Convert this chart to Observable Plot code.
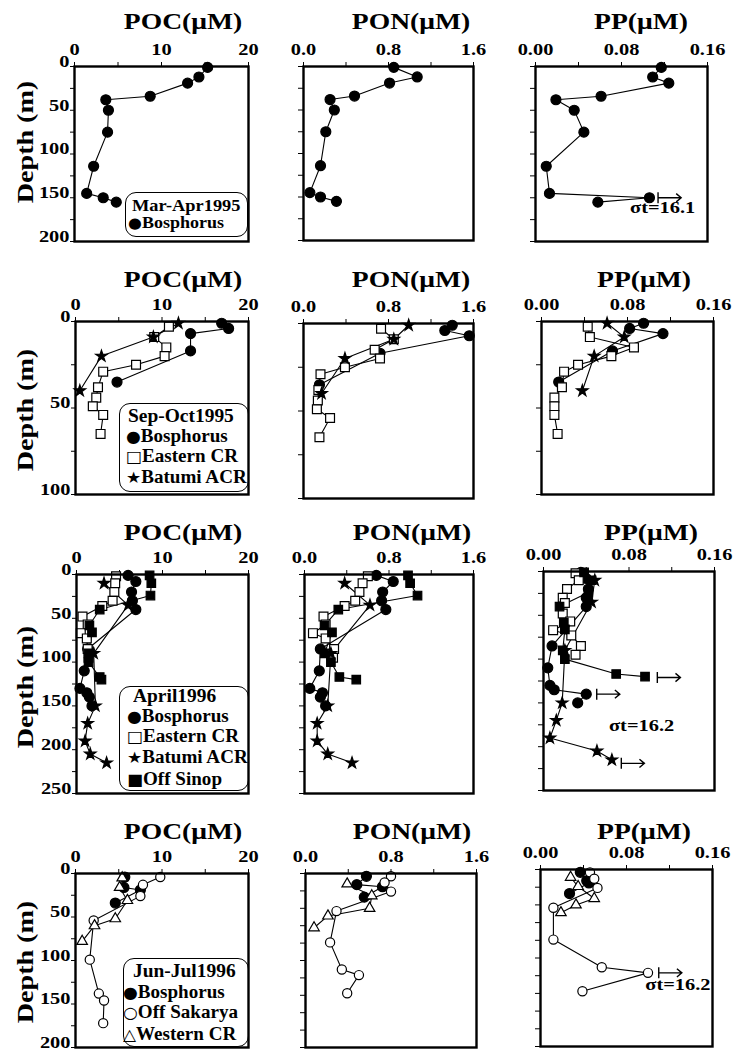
<!DOCTYPE html>
<html><head><meta charset="utf-8">
<script src="https://cdn.jsdelivr.net/npm/d3@7"></script>
<script src="https://cdn.jsdelivr.net/npm/@observablehq/plot@0.6"></script>
<style>
html,body{margin:0;padding:0;background:#fff;}
#chart{position:relative;width:733px;height:1056px;overflow:hidden;color:#000;}
.t{position:absolute;white-space:nowrap;line-height:1;color:#000;}
.sym{font-family:"DejaVu Sans",sans-serif;font-weight:normal;}
.legend{position:absolute;border:1.3px solid #000;border-radius:11px;box-sizing:border-box;}
</style></head><body><div id="chart"></div>
<script>
// ================= DATA =================
const variables = ["POC", "PON", "PP"];
const titles = ["POC(μM)", "PON(μM)", "PP(μM)"];
const xDomains = [[0, 20], [0, 1.6], [0, 0.16]];
const xTicks = [[0, 5, 10, 15, 20], [0, 0.4, 0.8, 1.2, 1.6], [0, 0.04, 0.08, 0.12, 0.16]];
const xTickLabels = [[0, 10, 20], [0, 0.8, 1.6], [0, 0.08, 0.16]];
const xDecimals = [0, 1, 2];
const periods = ["Mar-Apr1995", "Sep-Oct1995", "April1996", "Jun-Jul1996"];
const depthMax = [[200, 200, 200], [100, 100, 100], [250, 250, 250], [200, 250, 250]];

// --- Mar-Apr 1995 ---
const mar95_bos_depth = [1, 12, 19, 34, 38, 50, 75, 114, 145, 150, 155];
const mar95_bos_POC = [15.3, 14.3, 13.0, 8.7, 3.6, 3.9, 3.8, 2.2, 1.4, 3.3, 4.8];
const mar95_bos_PON = [0.85, 1.07, 0.81, 0.48, 0.25, 0.29, 0.21, 0.16, 0.06, 0.16, 0.31];
const mar95_bos_PP = [0.117, 0.109, 0.124, 0.061, 0.019, 0.036, 0.045, 0.010, 0.013, 0.106, 0.058];

// --- Sep-Oct 1995 ---
const sep95_bos_depth = [1, 4, 7, 17, 35];
const sep95_bos_POC = [16.9, 17.7, 13.3, 13.3, 4.8];
const sep95_bos_PON = [1.40, 1.33, 1.56, 0.72, 0.15];
const sep95_bos_PP = [0.095, 0.082, 0.113, 0.066, 0.016];
const sep95_ecr_depth = [3, 9, 15, 20, 25, 29, 38, 44, 49, 54, 65];
const sep95_ecr_POC = [10.8, 9.1, 10.5, 10.3, 7.0, 3.2, 2.6, 2.4, 2.0, 3.2, 2.9];
const sep95_ecr_PON = [0.73, 0.85, 0.67, 0.72, 0.39, 0.16, 0.14, 0.135, 0.126, 0.25, 0.15];
const sep95_ecr_PP = [0.043, 0.045, 0.086, 0.065, 0.034, 0.021, 0.019, 0.012, 0.012, 0.012, 0.015];
const sep95_bat_depth = [1, 9, 20, 40];
const sep95_bat_POC = [11.9, 9.0, 3.0, 0.5];
const sep95_bat_PON = [0.99, 0.85, 0.39, 0.17];
const sep95_bat_PP = [0.061, 0.077, 0.049, 0.038];

// --- April 1996 ---
const apr96_bos_depth = [1, 8, 20, 30, 40, 85, 110, 130, 135, 140, 150];
const apr96_bos_POC = [6.0, 6.9, 6.4, 6.5, 6.9, 1.3, 0.9, 0.4, 1.2, 1.5, 1.8];
const apr96_bos_PON = [0.68, 0.84, 0.74, 0.73, 0.77, 0.15, 0.14, 0.05, 0.17, 0.15, 0.20];
const apr96_bos_PP = [0.035, 0.040, 0.042, 0.040, 0.040, 0.008, 0.004, 0.006, 0.010, 0.040, 0.032];
const apr96_ecr_depth = [2, 10, 20, 30, 36, 48, 57, 67, 73, 85, 95];
const apr96_ecr_POC = [4.6, 4.5, 4.4, 4.2, 3.0, 0.7, 1.3, 0.5, 1.2, 1.3, 1.4];
const apr96_ecr_PON = [0.60, 0.55, 0.52, 0.48, 0.38, 0.18, 0.20, 0.08, 0.20, 0.28, 0.27];
const apr96_ecr_PP = [0.030, 0.033, 0.022, 0.018, 0.020, 0.018, 0.025, 0.009, 0.026, 0.035, 0.030];
const apr96_bat_depth = [10, 35, 90, 150, 170, 190, 205, 215];
const apr96_bat_POC = [3.2, 6.0, 2.0, 2.2, 1.3, 1.0, 1.6, 3.5];
const apr96_bat_PON = [0.38, 0.62, 0.25, 0.22, 0.12, 0.12, 0.22, 0.45];
const apr96_bat_PP = [0.048, 0.045, 0.020, 0.0175, 0.012, 0.006, 0.050, 0.064];
const apr96_sin_depth = [1, 10, 24, 40, 58, 66, 90, 100, 117, 120];
const apr96_sin_POC = [8.5, 8.7, 8.6, 2.7, 1.5, 1.8, 1.4, 1.4, 2.7, 2.9];
const apr96_sin_PON = [0.98, 1.00, 1.07, 0.32, 0.19, 0.26, 0.19, 0.25, 0.33, 0.49];
const apr96_sin_PP = [0.038, 0.045, 0.042, 0.015, 0.019, 0.020, 0.018, 0.020, 0.068, 0.095];

// --- Jun-Jul 1996 ---
const jun96_bos_depth = [4, 16, 19, 34];
const jun96_bos_POC = [5.7, 5.6, 7.5, 4.6];
const jun96_bos_PON = [0.57, 0.48, 0.72, 0.55];
const jun96_bos_PP = [0.037, 0.043, 0.045, 0.027];
const jun96_sak_depth = [4, 13, 26, 54, 99, 138, 146, 172];
const jun96_sak_POC = [9.8, 7.8, 7.5, 2.1, 1.65, 2.7, 3.3, 3.2];
const jun96_sak_PON = [0.80, 0.74, 0.80, 0.29, 0.23, 0.34, 0.50, 0.39];
const jun96_sak_PP = [0.046, 0.050, 0.053, 0.012, 0.012, 0.057, 0.100, 0.039];
const jun96_wcr_depth_POC = [5, 16, 31, 52, 60, 78];
const jun96_wcr_POC = [5.4, 5.1, 6.0, 4.6, 2.2, 0.77];
const jun96_wcr_depth_PON = [15, 32, 50, 61, 78];
const jun96_wcr_PON = [0.39, 0.62, 0.60, 0.21, 0.08];
const jun96_wcr_depth_PP = [11, 24, 41, 50, 61];
const jun96_wcr_PP = [0.028, 0.035, 0.050, 0.033, 0.019];

// σt isopycnal markers in the PP panels
const sigmaArrowPeriod = [0, 2, 2, 2, 3];
const sigmaArrowPP = [0.114, 0.1065, 0.0498, 0.0728, 0.110];
const sigmaArrowDepth = [150, 121, 140, 219, 146];
const sigmaLabelPeriod = [0, 2, 3];
const sigmaLabelText = ["σt=16.1", "σt=16.2", "σt=16.2"];
const sigmaLabelPP = [0.088, 0.0613, 0.0975];
const sigmaLabelDepth = [167, 182, 170];

// ================= STRUCTURE =================
function station(name, dPOC, POC, dPON, PON, dPP, PP) {
  return {name, depth: {POC: dPOC, PON: dPON, PP: dPP}, POC, PON, PP};
}
const rowsData = [
  [station("Bosphorus", mar95_bos_depth, mar95_bos_POC, mar95_bos_depth, mar95_bos_PON, mar95_bos_depth, mar95_bos_PP)],
  [station("Bosphorus", sep95_bos_depth, sep95_bos_POC, sep95_bos_depth, sep95_bos_PON, sep95_bos_depth, sep95_bos_PP),
   station("Eastern CR", sep95_ecr_depth, sep95_ecr_POC, sep95_ecr_depth, sep95_ecr_PON, sep95_ecr_depth, sep95_ecr_PP),
   station("Batumi ACR", sep95_bat_depth, sep95_bat_POC, sep95_bat_depth, sep95_bat_PON, sep95_bat_depth, sep95_bat_PP)],
  [station("Bosphorus", apr96_bos_depth, apr96_bos_POC, apr96_bos_depth, apr96_bos_PON, apr96_bos_depth, apr96_bos_PP),
   station("Eastern CR", apr96_ecr_depth, apr96_ecr_POC, apr96_ecr_depth, apr96_ecr_PON, apr96_ecr_depth, apr96_ecr_PP),
   station("Batumi ACR", apr96_bat_depth, apr96_bat_POC, apr96_bat_depth, apr96_bat_PON, apr96_bat_depth, apr96_bat_PP),
   station("Off Sinop", apr96_sin_depth, apr96_sin_POC, apr96_sin_depth, apr96_sin_PON, apr96_sin_depth, apr96_sin_PP)],
  [station("Bosphorus", jun96_bos_depth, jun96_bos_POC, jun96_bos_depth, jun96_bos_PON, jun96_bos_depth, jun96_bos_PP),
   station("Off Sakarya", jun96_sak_depth, jun96_sak_POC, jun96_sak_depth, jun96_sak_PON, jun96_sak_depth, jun96_sak_PP),
   station("Western CR", jun96_wcr_depth_POC, jun96_wcr_POC, jun96_wcr_depth_PON, jun96_wcr_PON, jun96_wcr_depth_PP, jun96_wcr_PP)]
];

// ================= STYLE / LAYOUT =================
const stationStyle = {
  "Bosphorus":   {symbol: "circle",   fill: "black", r: 5,   legend: "●"},
  "Eastern CR":  {symbol: "square",   fill: "white", r: 5,   legend: "□"},
  "Batumi ACR":  {symbol: "star",     fill: "black", r: 3.6, legend: "★"},
  "Off Sinop":   {symbol: "square",   fill: "black", r: 4.8, legend: "■"},
  "Off Sakarya": {symbol: "circle",   fill: "white", r: 4.6, legend: "○"},
  "Western CR":  {symbol: "triangle", fill: "white", r: 3.9, legend: "△"}
};
// "|→" marker drawn as a custom symbol
const mapsTo = {
  draw(ctx, size) {
    const s = Math.sqrt(size / Math.PI);
    ctx.moveTo(0, -s); ctx.lineTo(0, s);
    ctx.moveTo(0, 0); ctx.lineTo(4.2 * s, 0);
    ctx.moveTo(3.3 * s, -0.75 * s); ctx.lineTo(4.2 * s, 0); ctx.lineTo(3.3 * s, 0.75 * s);
  }
};
const frameX = [[[74,248],[303,473],[535,707]], [[75,248],[303,473],[541,713]], [[76,248],[304,473],[543,714]], [[75,248],[305,476],[540,712]]];
const frameY = [[[66,241],[66,240],[66,241]], [[321,494],[323,498],[321,494]], [[574,793],[574,793],[571,790]], [[873,1047],[873,1047],[869,1046]]];
const titleX = [[183,411,641],[183,411,644],[183,412,651],[183,412,644]];
const titleBase = [29, 287, 540, 839];
const depthLabelY = [142, 410, 687, 962];
const legendLayout = [
  {box: [125,192,248,237], head: [132,211], sym: 128, lines: [228], size: 17},
  {box: [119,403,249,492], head: [128,422], sym: 126, lines: [442,462,483], size: 18},
  {box: [119,686,249,791], head: [133,702], sym: 127, lines: [722,742,763,785], size: 18},
  {box: [123,958,249,1047], head: [133,977], sym: 123, lines: [998,1018,1040], size: 18}
];
const SERIF = '"Liberation Serif","Times New Roman",serif';
const chart = document.getElementById("chart");

function addText(str, {left, baseline, size, family = SERIF, weight = "bold", sx = 1, anchor = "start", asc = 0.8375, html = false}) {
  const d = document.createElement("div");
  d.className = "t";
  if (html) d.innerHTML = str; else d.textContent = str;
  d.style.fontSize = size + "px";
  d.style.fontFamily = family;
  d.style.fontWeight = weight;
  d.style.top = (baseline - asc * size) + "px";
  if (anchor === "middle") {
    d.style.left = (left - 150) + "px"; d.style.width = "300px"; d.style.textAlign = "center";
    d.style.transformOrigin = "50% 50%";
  } else {
    d.style.left = left + "px"; d.style.transformOrigin = "0 50%";
  }
  d.style.transform = `scaleX(${sx})`;
  chart.appendChild(d);
  return d;
}

function stretchTexts(svg, sx) {
  svg.querySelectorAll("text").forEach(t => {
    const x = parseFloat(t.getAttribute("x")) || 0;
    const y = parseFloat(t.getAttribute("y")) || 0;
    const tr = t.getAttribute("transform") || "";
    t.removeAttribute("x"); t.removeAttribute("y");
    t.setAttribute("transform", `${tr} translate(${x},${y}) scale(${sx},1)`);
  });
}

for (let r = 0; r < 4; r++) {
  for (let c = 0; c < 3; c++) {
    const v = variables[c];
    const [x0, x1] = frameX[r][c], [y0, y1] = frameY[r][c];
    const mL = c === 0 ? 64 : 16, mT = 44, mR = 20, mB = 8;
    const marks = [];
    const series = rowsData[r].map(s => ({
      name: s.name,
      data: s.depth[v].map((d, i) => ({depth: d, value: s[v][i]}))
    }));
    for (const s of series) marks.push(Plot.line(s.data, {x: "value", y: "depth", stroke: "black", strokeWidth: 1.1}));
    for (const s of series) {
      const st = stationStyle[s.name];
      marks.push(Plot.dot(s.data, {x: "value", y: "depth", symbol: st.symbol, r: st.r, fill: st.fill, stroke: "black", strokeWidth: 1.2}));
    }
    if (c === 2) {
      const arrows = sigmaArrowPeriod.map((p, i) => ({p, value: sigmaArrowPP[i], depth: sigmaArrowDepth[i]})).filter(a => a.p === r);
      const labels = sigmaLabelPeriod.map((p, i) => ({p, text: sigmaLabelText[i], value: sigmaLabelPP[i], depth: sigmaLabelDepth[i]})).filter(a => a.p === r);
      marks.push(Plot.dot(arrows, {x: "value", y: "depth", symbol: mapsTo, r: 5.5, fill: "none", stroke: "black", strokeWidth: 1.4}));
      marks.push(Plot.text(labels, {x: "value", y: "depth", text: "text", textAnchor: "start", fontSize: 17, fontFamily: SERIF, fontWeight: "bold"}));
    }
    marks.push(Plot.frame({stroke: "black", strokeWidth: 2.4}));
    const dm = depthMax[r][c];
    const svg = Plot.plot({
      width: (x1 - x0) + mL + mR,
      height: (y1 - y0) + mT + mB,
      marginLeft: mL, marginRight: mR, marginTop: mT, marginBottom: mB,
      style: {fontFamily: SERIF, fontSize: "17px", fontWeight: "bold", background: "transparent", overflow: "visible", color: "black"},
      x: {domain: xDomains[c], axis: "top", ticks: xTicks[c],
          tickFormat: d => xTickLabels[c].includes(d) ? d.toFixed(xDecimals[c]) : "",
          tickSize: 5, tickPadding: 7, label: null},
      y: {domain: [0, dm], reverse: true, ticks: d3.range(0, dm + 1, 25),
          tickFormat: c === 0 ? (d => d % 50 === 0 ? String(d) : "") : (() => ""),
          tickSize: c === 0 ? 4 : 5, tickPadding: 1, label: null},
      marks
    });
    stretchTexts(svg, 1.2);
    svg.style.position = "absolute";
    svg.style.left = (x0 - mL) + "px";
    svg.style.top = (y0 - mT) + "px";
    svg.style.maxWidth = "none";
    chart.appendChild(svg);

    addText(titles[c], {left: titleX[r][c], baseline: titleBase[r], size: 23, anchor: "middle", sx: 1.2});
  }
  // Depth label
  const dl = document.createElement("div");
  dl.className = "t";
  dl.textContent = "Depth (m)";
  Object.assign(dl.style, {fontFamily: SERIF, fontWeight: "bold", fontSize: "24px", width: "200px", textAlign: "center",
    left: (25 - 100) + "px", top: (depthLabelY[r] - 12) + "px", transformOrigin: "50% 50%", transform: "rotate(-90deg) scaleX(1.17)"});
  chart.appendChild(dl);

  // Legend
  const L = legendLayout[r];
  const box = document.createElement("div");
  box.className = "legend";
  Object.assign(box.style, {left: L.box[0] + "px", top: L.box[1] + "px", width: (L.box[2] - L.box[0]) + "px", height: (L.box[3] - L.box[1]) + "px"});
  chart.appendChild(box);
  addText(periods[r], {left: L.head[0], baseline: L.head[1], size: L.size, sx: 1.08});
  rowsData[r].forEach((s, i) => {
    const sym = `<span class="sym" style="font-size:${L.size - 2}px">${stationStyle[s.name].legend}</span>`;
    addText(sym + s.name, {left: L.sym, baseline: L.lines[i], size: L.size, sx: 1.06, html: true});
  });
}
</script></body></html>
